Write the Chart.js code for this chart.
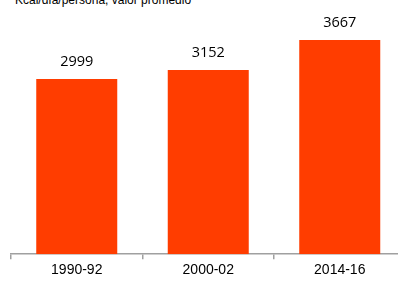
<!DOCTYPE html>
<html>
<head>
<meta charset="utf-8">
<script src="https://cdn.jsdelivr.net/npm/chart.js@4/dist/chart.umd.min.js"></script>
<style>
  html, body { margin: 0; padding: 0; background: #fff; width: 398px; height: 282px; overflow: hidden; position: relative; }
  #title { position: absolute; left: 15px; top: -7px; font: 12px "Liberation Sans", Arial, sans-serif; line-height: 14px; color: #000; white-space: nowrap; }
  #c { position: absolute; left: 0; top: 0; }
</style>
</head>
<body>
<div id="title">Kcal/día/persona, valor promedio</div>
<canvas id="c" width="410" height="282"></canvas>
<script>
const categories = ["1990-92", "2000-02", "2014-16"];
const values = [2999, 3152, 3667];
const valueLabels = ["2999", "3152", "3667"];

const valueLabelPlugin = {
  id: 'valueLabels',
  afterDatasetsDraw(chart) {
    const ctx = chart.ctx;
    const meta = chart.getDatasetMeta(0);
    ctx.save();
    ctx.font = '14.5px "Open Sans", sans-serif';
    ctx.fillStyle = '#000';
    ctx.textAlign = 'center';
    ctx.textBaseline = 'alphabetic';
    meta.data.forEach((bar, i) => {
      ctx.fillText(valueLabels[i], bar.x, bar.y - 13);
    });
    ctx.restore();
  }
};

new Chart(document.getElementById('c'), {
  type: 'bar',
  data: {
    labels: categories,
    datasets: [{
      data: values,
      backgroundColor: '#FF3D00',
      borderWidth: 0,
      categoryPercentage: 1,
      barPercentage: 0.616
    }]
  },
  options: {
    responsive: false,
    animation: false,
    devicePixelRatio: 1,
    layout: { padding: { left: 11, right: 4.5, top: 20.6, bottom: 0 } },
    plugins: { legend: { display: false }, title: { display: false }, tooltip: { enabled: false } },
    scales: {
      y: { display: false, min: 0, max: 4000 },
      x: {
        offset: true,
        border: { display: true, color: '#a0a0a0', width: 1.5 },
        grid: { display: true, drawOnChartArea: false, drawTicks: true, tickLength: 5, color: '#a0a0a0', lineWidth: 1.5, offset: true },
        ticks: { color: '#000', font: { family: '"Liberation Sans", Arial, sans-serif', size: 14 }, padding: 3, maxRotation: 0 }
      }
    }
  },
  plugins: [valueLabelPlugin]
});
</script>
</body>
</html>
